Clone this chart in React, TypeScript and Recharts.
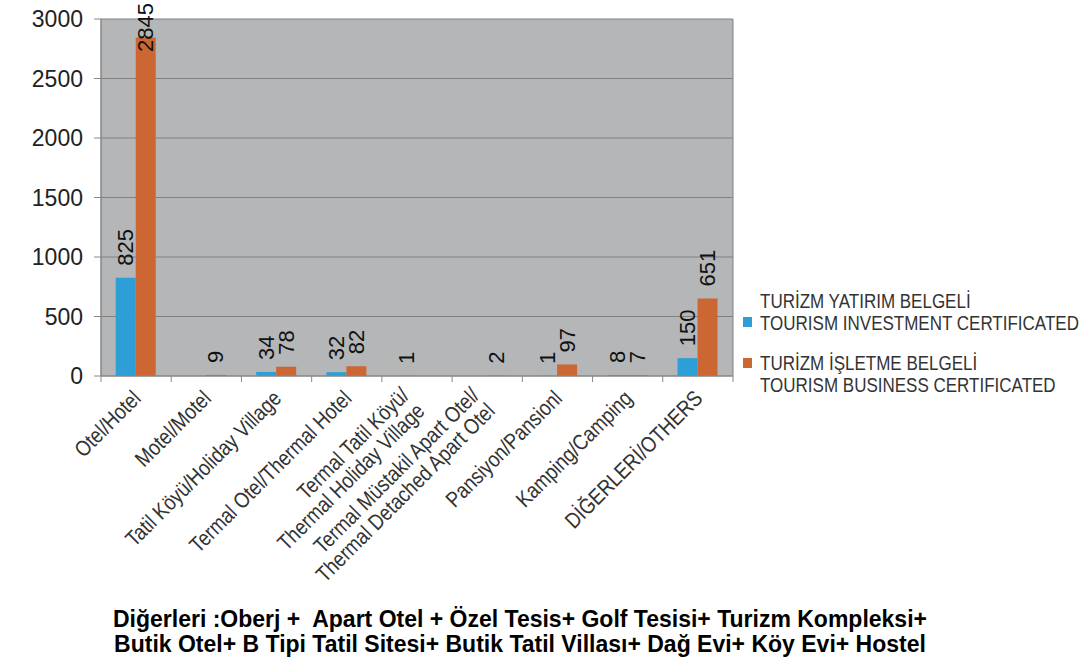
import React from "react"
import { Bar, BarChart, CartesianGrid, LabelList, XAxis, YAxis } from "recharts"

// categories (\n = line break in the tick label)
const categories = [
  "Otel/Hotel",
  "Motel/Motel",
  "Tatil Köyü/Holiday Village",
  "Termal Otel/Thermal Hotel",
  "Termal Tatil Köyü/\nThermal Holiday Village",
  "Termal Müstakil Apart Otel/\nThermal Detached Apart Otel",
  "Pansiyon/Pansionl",
  "Kamping/Camping",
  "DİĞERLERİ/OTHERS",
]

const investment = [825, 0, 34, 32, 1, 0, 1, 8, 150]
const business = [2845, 9, 78, 82, 0, 2, 97, 7, 651]

const yTicks = [0, 500, 1000, 1500, 2000, 2500, 3000]

const seriesNames = [
  ["TURİZM YATIRIM BELGELİ", "TOURISM INVESTMENT CERTIFICATED"],
  ["TURİZM İŞLETME BELGELİ", "TOURISM BUSINESS CERTIFICATED"],
]

const footerLines = [
  "Diğerleri :Oberj +  Apart Otel + Özel Tesis+ Golf Tesisi+ Turizm Kompleksi+",
  "Butik Otel+ B Tipi Tatil Sitesi+ Butik Tatil Villası+ Dağ Evi+ Köy Evi+ Hostel",
]

const BLUE = "#2E9ED6"
const ORANGE = "#CC6633"
const SANS = '"Liberation Sans", Arial, sans-serif'
const SQUEEZE = 0.85

const data = categories.map((name, i) => ({
  name,
  investment: investment[i],
  business: business[i],
}))

const CHART_W = 1090
const CHART_H = 590
const MARGIN = { top: 19, right: 357, bottom: 14, left: 0 }
const Y_W = 101
const band = (CHART_W - MARGIN.right - MARGIN.left - Y_W) / categories.length

function XTick(props: any) {
  const { x, y, payload, index } = props
  const lines = String(payload.value).split("\n")
  const n = lines.length
  const u = (n > 1 ? -11 : -4) / SQUEEZE
  const left = x - band / 2
  const right = x + band / 2
  return (
    <g>
      <line x1={left} y1={y - 8} x2={left} y2={y - 2} stroke="#888" />
      {index === categories.length - 1 && <line x1={right} y1={y - 8} x2={right} y2={y - 2} stroke="#888" />}
      <g transform={`translate(${x}, ${y + 4}) rotate(-45) scale(${SQUEEZE}, 1)`}>
        {lines.map((l, i) => (
          <text
            key={i}
            x={u}
            y={5 + (i - (n - 1) / 2) * 22}
            textAnchor="end"
            dominantBaseline="central"
            fontFamily={SANS}
            fontSize={22}
            fill="#333"
          >
            {l}
          </text>
        ))}
      </g>
    </g>
  )
}

function ValueLabel(props: any) {
  const { x, y, width, value } = props
  if (!value) return null
  const tx = x + width / 2
  const ty = Math.max(y - 12, 52)
  return (
    <text
      x={tx}
      y={ty}
      transform={`rotate(-90, ${tx}, ${ty})`}
      textAnchor="start"
      dominantBaseline="central"
      fontFamily={SANS}
      fontSize={22}
      fill="#111"
    >
      {value}
    </text>
  )
}

export default function App() {
  return (
    <div style={{ position: "absolute", left: 0, top: 0, width: 1090, height: 663, background: "#fff", overflow: "hidden" }}>
      <BarChart width={CHART_W} height={CHART_H} data={data} margin={MARGIN} barCategoryGap="21%" barGap={0}>
        <CartesianGrid
          fill="#B4B6B8"
          stroke="#808080"
          vertical={true}
          verticalCoordinatesGenerator={({ offset }: any) => [offset.left, offset.left + offset.width]}
        />
        <XAxis
          dataKey="name"
          interval={0}
          height={200}
          tick={<XTick />}
          tickLine={false}
          axisLine={{ stroke: "#888" }}
        />
        <YAxis
          width={Y_W}
          domain={[0, 3000]}
          ticks={yTicks}
          tick={{ fontSize: 23, fill: "#222", fontFamily: SANS }}
          tickLine={{ stroke: "#888" }}
          tickSize={7}
          tickMargin={11}
          axisLine={{ stroke: "#888" }}
        />
        <Bar dataKey="investment" fill={BLUE} isAnimationActive={false}>
          <LabelList dataKey="investment" content={<ValueLabel />} />
        </Bar>
        <Bar dataKey="business" fill={ORANGE} isAnimationActive={false}>
          <LabelList dataKey="business" content={<ValueLabel />} />
        </Bar>
      </BarChart>

      <div style={{ position: "absolute", left: 743, top: 290, fontFamily: SANS, fontSize: 20, color: "#333", lineHeight: "22px" }}>
        {seriesNames.map((lines, i) => (
          <div key={i} style={{ position: "relative", paddingLeft: 17, marginBottom: i === 0 ? 18 : 0 }}>
            <span
              style={{
                position: "absolute",
                left: 0,
                top: i === 0 ? 27 : 6,
                width: 9,
                height: 10,
                background: i === 0 ? BLUE : ORANGE,
              }}
            />
            {lines.map((l) => (
              <div key={l} style={{ whiteSpace: "nowrap", transform: "scaleX(0.85)", transformOrigin: "0 0" }}>{l}</div>
            ))}
          </div>
        ))}
      </div>

      <div
        style={{
          position: "absolute",
          left: 0,
          top: 607,
          width: 1040,
          textAlign: "center",
          fontFamily: SANS,
          fontWeight: "bold",
          fontSize: 23,
          lineHeight: "25px",
          color: "#000",
        }}
      >
        {footerLines.map((l) => (
          <div key={l} style={{ whiteSpace: "pre" }}>{l}</div>
        ))}
      </div>
    </div>
  )
}
